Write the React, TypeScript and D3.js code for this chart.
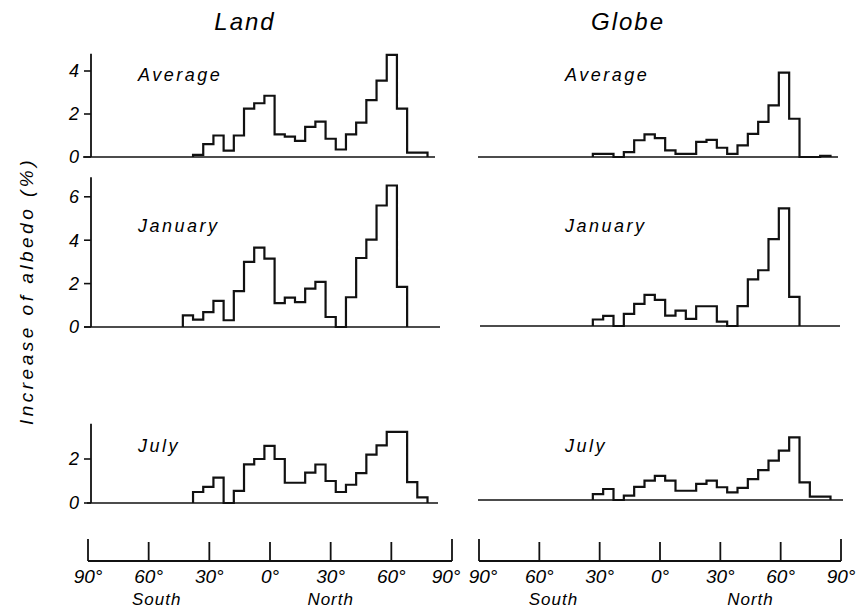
import React, { useRef, useEffect } from "react";
import * as d3 from "d3";

const W = 866;
const H = 613;

// 5-degree latitude bands, values are band centres (south negative)
const landAverageStart = -35;
const landAverage = [0.1, 0.6, 1.0, 0.3, 1.0, 2.25, 2.5, 2.85, 1.05, 0.95, 0.75, 1.4, 1.65, 0.85, 0.35, 1.05, 1.6, 2.65, 3.55, 4.75, 2.25, 0.2, 0.2];
const landJanuaryStart = -40;
const landJanuary = [0.54, 0.34, 0.69, 1.2, 0.31, 1.65, 3.0, 3.66, 3.15, 1.1, 1.35, 1.15, 1.77, 2.08, 0.46, 0, 1.37, 3.18, 4.03, 5.6, 6.52, 1.85];
const landJulyStart = -35;
const landJuly = [0.5, 0.73, 1.15, 0, 0.55, 1.76, 2.0, 2.6, 2.0, 0.92, 0.92, 1.38, 1.75, 1.0, 0.5, 0.83, 1.36, 2.2, 2.62, 3.23, 3.23, 0.95, 0.26];

const globeAverageStart = -30;
const globeAverage = [0.15, 0.15, 0, 0.23, 0.78, 1.05, 0.88, 0.31, 0.15, 0.15, 0.7, 0.8, 0.43, 0.15, 0.54, 1.08, 1.63, 2.4, 3.92, 1.78, 0, 0, 0.05];
const globeJanuaryStart = -30;
const globeJanuary = [0.3, 0.47, 0, 0.56, 1.02, 1.43, 1.2, 0.48, 0.71, 0.33, 0.91, 0.91, 0.2, 0, 0.92, 2.15, 2.57, 4.0, 5.42, 1.34];
const globeJulyStart = -30;
const globeJuly = [0.27, 0.5, 0, 0.2, 0.6, 0.88, 1.1, 0.88, 0.42, 0.42, 0.73, 0.88, 0.58, 0.35, 0.55, 0.95, 1.36, 1.79, 2.24, 2.85, 0.8, 0.15, 0.15];

const latTicks = [-90, -60, -30, 0, 30, 60, 90];
const landYTicks = [[0, 2, 4], [0, 2, 4, 6], [0, 2]];
const panelNames = ["Average", "January", "July"];
const columnTitles = ["Land", "Globe"];

const FONT = "'Liberation Sans', Arial, sans-serif";

const App = () => {
  const svgRef = useRef(null);

  useEffect(() => {
    const svg = d3.select(svgRef.current);
    svg.selectAll("*").remove();

    // x scales: histogram panels are slightly stretched vs the bottom axis
    const landAxisX = d3.scaleLinear().domain([-90, 90]).range([88, 452]);
    const globeAxisX = d3.scaleLinear().domain([-90, 90]).range([479, 841]);
    const landX = d3.scaleLinear().domain([-90, 90]).range([86, 453]);
    const globeX = d3.scaleLinear().domain([-90, 90]).range([474, 846]);

    const columns = [
      {
        x: landX,
        axisX: landAxisX,
        series: [
          { start: landAverageStart, values: landAverage },
          { start: landJanuaryStart, values: landJanuary },
          { start: landJulyStart, values: landJuly },
        ],
        baselines: [157, 327, 503],
        lineEnds: [[83, 435], [84, 440], [87, 438]],
        labelX: 138,
        titleX: 245,
      },
      {
        x: globeX,
        axisX: globeAxisX,
        series: [
          { start: globeAverageStart, values: globeAverage },
          { start: globeJanuaryStart, values: globeJanuary },
          { start: globeJulyStart, values: globeJuly },
        ],
        baselines: [157, 326, 500],
        lineEnds: [[478, 838], [480, 840], [478, 843]],
        labelX: 565,
        titleX: 628,
      },
    ];
    const units = [21.5, 21.7, 22];
    const labelYs = [81, 232, 452];
    const landAxisTop = [4.8, 6.9, 3.6];

    columns.forEach((col, ci) => {
      svg
        .append("text")
        .attr("x", col.titleX)
        .attr("y", 30)
        .attr("text-anchor", "middle")
        .style("font-family", FONT)
        .style("font-style", "italic")
        .style("font-size", "24px")
        .style("letter-spacing", "2px")
        .text(columnTitles[ci]);

      col.series.forEach((s, ri) => {
        const base = col.baselines[ri];
        const y = d3
          .scaleLinear()
          .domain([0, 1])
          .range([base, base - units[ri]]);

        // baseline
        svg
          .append("line")
          .attr("x1", col.lineEnds[ri][0])
          .attr("x2", col.lineEnds[ri][1])
          .attr("y1", base)
          .attr("y2", base)
          .attr("stroke", "#111")
          .attr("stroke-width", 1.6);

        // step outline
        const pts = [];
        s.values.forEach((v, i) => {
          const left = s.start + i * 5 - 2.5;
          if (i === 0) pts.push([left, 0]);
          pts.push([left, v]);
        });
        pts.push([s.start + s.values.length * 5 - 2.5, 0]);

        const line = d3
          .line()
          .x((d) => col.x(d[0]))
          .y((d) => y(d[1]))
          .curve(d3.curveStepAfter);

        svg
          .append("path")
          .datum(pts)
          .attr("fill", "none")
          .attr("stroke", "#111")
          .attr("stroke-width", 2.2)
          .attr("stroke-linejoin", "miter")
          .attr("d", line);

        svg
          .append("text")
          .attr("x", col.labelX)
          .attr("y", labelYs[ri])
          .style("font-family", FONT)
          .style("font-style", "italic")
          .style("font-size", "18px")
          .style("letter-spacing", "2.5px")
          .text(panelNames[ri]);

        // y axis only on the land column
        if (ci === 0) {
          svg
            .append("line")
            .attr("x1", 91)
            .attr("x2", 91)
            .attr("y1", base)
            .attr("y2", y(landAxisTop[ri]))
            .attr("stroke", "#111")
            .attr("stroke-width", 1.8);
          landYTicks[ri].forEach((t) => {
            svg
              .append("line")
              .attr("x1", 84)
              .attr("x2", 91)
              .attr("y1", y(t))
              .attr("y2", y(t))
              .attr("stroke", "#111")
              .attr("stroke-width", 1.6);
            svg
              .append("text")
              .attr("x", 79)
              .attr("y", y(t))
              .attr("dy", "0.36em")
              .attr("text-anchor", "end")
              .style("font-family", FONT)
              .style("font-style", "italic")
              .style("font-size", "18px")
              .text(t);
          });
        }
      });

      // bottom latitude axis
      const ax = col.axisX;
      const axisY = 561;
      svg
        .append("line")
        .attr("x1", ax(-90))
        .attr("x2", ax(90))
        .attr("y1", axisY)
        .attr("y2", axisY)
        .attr("stroke", "#111")
        .attr("stroke-width", 1.8);
      latTicks.forEach((t) => {
        svg
          .append("line")
          .attr("x1", ax(t))
          .attr("x2", ax(t))
          .attr("y1", axisY)
          .attr("y2", Math.abs(t) === 90 ? axisY - 22 : axisY - 19)
          .attr("stroke", "#111")
          .attr("stroke-width", 1.8);
        // the two inner 90° labels sit back to back, nudge them apart
        let shift = 0;
        if (ci === 0 && t === 90) shift = -6;
        if (ci === 1 && t === -90) shift = 4;
        svg
          .append("text")
          .attr("x", ax(t) + shift)
          .attr("y", 583)
          .attr("text-anchor", "middle")
          .style("font-family", FONT)
          .style("font-style", "italic")
          .style("font-size", "19px")
          .text(`${Math.abs(t)}°`);
      });
      const southX = ci === 0 ? -56 : -53;
      const northX = ci === 0 ? 30 : 45;
      [
        ["South", southX],
        ["North", northX],
      ].forEach(([name, lat]) => {
        svg
          .append("text")
          .attr("x", ax(lat))
          .attr("y", 605)
          .attr("text-anchor", "middle")
          .style("font-family", FONT)
          .style("font-style", "italic")
          .style("font-size", "17px")
          .style("letter-spacing", "1px")
          .text(name);
      });
    });

    // y axis title
    svg
      .append("text")
      .attr("transform", "translate(33, 291) rotate(-90)")
      .attr("text-anchor", "middle")
      .style("font-family", FONT)
      .style("font-style", "italic")
      .style("font-size", "19px")
      .style("letter-spacing", "3.5px")
      .text("Increase of albedo (%)");
  }, []);

  return (
    <svg
      ref={svgRef}
      width={W}
      height={H}
      style={{ position: "absolute", left: 0, top: 0, background: "#fff" }}
    />
  );
};

export default App;
